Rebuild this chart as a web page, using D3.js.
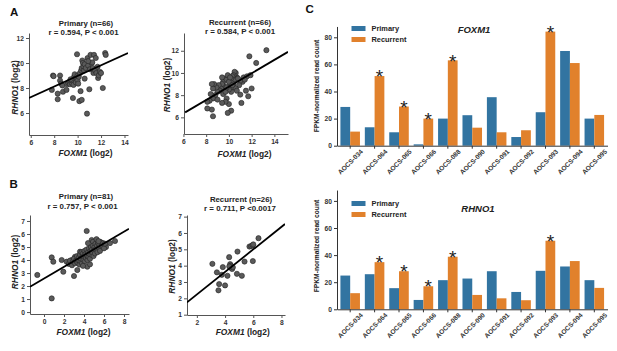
<!DOCTYPE html>
<html><head><meta charset="utf-8">
<script src="https://cdn.jsdelivr.net/npm/d3@7"></script>
<style>
body{margin:0;background:#fff;}
svg{display:block;font-family:Arial,"Liberation Sans",sans-serif;}
</style></head><body>
<svg id="c" width="617" height="351"></svg>
<script>
// ---------- Panel A / B scatter data (FOXM1 log2, RHNO1 log2) ----------
const aPrimary = [[7.9,9.0],[7.95,8.95],[7.8,7.85],[8.3,7.55],[8.3,7.1],[8.5,9.0],[8.5,8.6],[8.6,8.35],[8.7,8.2],[8.75,7.7],
[9.05,7.85],[9.1,8.3],[9.2,8.4],[9.3,8.5],[9.35,8.3],[9.5,8.4],[9.55,8.6],[9.6,7.2],[9.65,8.25],[9.7,8.9],
[9.75,9.1],[9.8,8.7],[9.85,8.45],[9.9,8.8],[9.95,10.7],[10.0,9.0],[10.0,8.6],[10.05,8.35],[10.1,8.9],[10.15,6.95],
[10.2,9.2],[10.25,7.75],[10.3,9.4],[10.35,7.05],[10.35,9.6],[10.4,10.2],[10.45,10.0],[10.5,9.7],[10.55,9.4],[10.6,9.9],
[10.7,9.6],[10.8,5.95],[10.85,10.4],[10.9,9.8],[11.0,7.9],[11.05,9.5],[11.1,10.65],[11.2,10.0],[11.25,10.05],[11.3,9.6],
[11.35,9.2],[11.4,10.65],[11.5,9.4],[11.55,10.4],[11.6,9.2],[11.7,9.7],[11.75,8.8],[11.8,9.0],[11.9,9.3],[12.0,9.2],
[12.15,8.0],[12.35,10.8],[12.4,10.65],[10.9,10.15],[9.4,8.7],[10.6,8.75]];
const aRecurrent = [[13.3,12.05],[11.8,11.5],[12.4,10.9],[12.0,8.6],[11.7,7.9],[11.5,8.4],[11.3,9.6],[11.6,9.7],[11.9,9.8],[11.2,9.2],
[11.0,9.3],[10.9,8.9],[11.0,8.05],[11.1,7.3],[10.7,9.6],[10.6,10.0],[10.5,10.1],[10.4,9.8],[10.5,9.4],[10.3,9.7],
[10.2,9.5],[10.1,9.0],[10.3,8.7],[10.2,8.3],[10.0,8.5],[10.2,6.6],[9.9,6.4],[10.0,7.2],[9.8,7.7],[9.7,7.4],
[9.6,9.5],[9.5,9.2],[9.6,8.8],[9.4,9.6],[9.4,9.0],[9.3,8.6],[9.2,8.4],[9.5,8.1],[9.4,7.3],[9.1,8.9],
[9.0,8.3],[8.9,8.7],[8.8,8.0],[8.7,9.0],[8.6,8.6],[8.5,9.0],[8.6,7.7],[8.5,6.7],[8.6,6.1],[8.4,8.1],
[8.3,7.5],[8.1,7.4],[8.1,6.8],[9.8,9.4],[9.9,9.8],[10.0,9.2],[10.4,9.0],[10.6,8.6],[10.8,9.5],[11.4,9.4],
[10.7,8.4],[9.7,8.3],[9.0,7.6],[10.3,8.9],[10.1,9.6],[9.8,8.7]];
const bPrimary = [[0.77,1.05],[-0.67,2.85],[0.77,4.2],[0.93,3.87],[1.77,4.0],[1.93,3.1],[2.27,3.87],[3.0,2.77],[3.33,3.23],[2.77,4.0],
[3.1,4.25],[3.6,4.64],[4.27,6.23],[4.33,3.49],[4.6,3.67],[4.77,5.54],[4.9,5.4],[5.6,5.4],[6.2,5.0],[7.1,5.46],[6.6,5.3],
[2.5,3.7],[2.6,3.95],[2.8,3.6],[2.9,3.9],[3.0,4.1],[3.1,3.75],[3.2,3.95],[3.3,4.3],[3.35,3.8],[3.4,4.0],
[3.5,4.2],[3.55,3.65],[3.6,4.4],[3.65,3.9],[3.7,4.1],[3.75,4.6],[3.8,3.75],[3.85,4.25],[3.9,4.5],[3.95,4.0],
[4.0,4.3],[4.05,4.7],[4.1,3.9],[4.15,4.45],[4.2,4.15],[4.25,4.8],[4.3,4.35],[4.35,4.0],[4.4,4.6],[4.45,4.25],
[4.5,4.9],[4.55,4.45],[4.6,4.1],[4.65,4.7],[4.7,5.0],[4.75,4.4],[4.8,4.8],[4.85,4.55],[4.9,5.1],[4.95,4.3],
[5.0,4.75],[5.05,5.0],[5.1,4.5],[5.15,5.25],[5.2,4.85],[5.3,5.1],[5.35,4.6],[5.4,5.3],[5.5,4.95],[5.55,5.2],
[5.6,4.7],[5.7,5.35],[5.8,5.1],[5.9,5.3],[6.0,4.9],[6.1,5.25],[5.25,5.6],[5.45,5.45],[4.4,5.3],[3.9,3.55]];
const bRecurrent = [[3.1,4.11],[3.42,3.59],[3.58,2.87],[3.53,2.49],[3.84,3.91],[3.77,3.44],[4.0,2.79],[4.17,3.38],[4.29,4.52],[4.36,4.09],
[4.4,3.95],[4.45,3.85],[4.5,3.8],[4.42,4.0],[4.88,4.86],[4.84,3.5],[5.19,3.38],[5.38,4.25],[5.73,5.17],[5.85,5.2],
[5.95,5.25],[6.0,5.3],[5.97,4.28],[6.37,5.68],[4.55,3.9],[4.3,3.95]];
// regression lines (endpoints in data units)
const fitAPrimary = [[5.85,7.2],[14.3,10.8]];
const fitARecurrent = [[6.15,6.45],[15.2,11.9]];
const fitBPrimary = [[-1.4,1.95],[8.5,6.4]];
const fitBRecurrent = [[1.3,1.75],[8.25,6.55]];
const scatterTitles = ["Primary (n=66)","Recurrent (n=66)","Primary (n=81)","Recurrent (n=26)"];
const scatterStats = ["r = 0.594, P < 0.001","r = 0.584, P < 0.001","r = 0.757, P < 0.001","r = 0.711, P <0.0017"];
const aXTicks = [6,8,10,12,14];
const aYTicks = [6,8,10,12];
const bLeftXTicks = [0,2,4,6,8];
const bLeftYTicks = [0,1,2,3,4,5,6,7];
const bRightXTicks = [2,4,6,8];
const bRightYTicks = [1,2,3,4,5,6,7];

// ---------- Panel C bar data ----------
const samples = ["AOCS-034","AOCS-064","AOCS-065","AOCS-066","AOCS-088","AOCS-090","AOCS-091","AOCS-092","AOCS-093","AOCS-094","AOCS-095"];
const foxm1Primary   = [28.6,13.6,9.9,1.0,20.0,22.5,35.8,6.4,24.7,69.9,20.0];
const foxm1Recurrent = [10.4,51.4,28.9,20.0,63.0,13.3,9.9,11.4,84.2,61.0,22.7];
const rhno1Primary   = [24.9,25.9,15.6,6.9,21.5,22.7,28.1,12.8,28.4,31.6,21.5];
const rhno1Recurrent = [11.9,34.8,28.1,17.0,38.8,10.6,8.1,6.7,50.6,35.6,15.8];
const significant = ["AOCS-064","AOCS-065","AOCS-066","AOCS-088","AOCS-093"];
const barYTicks = [0,20,40,60,80];
const seriesNames = ["Primary","Recurrent"];
const colors = {Primary:"#3274a1", Recurrent:"#e1812c"};

const svg = d3.select("#c");
const txt = "#222";
const intFmt = d3.format("d");

function scatter(cfg){
  const g = svg.append("g");
  const x = d3.scaleLinear().domain(cfg.xd).range(cfg.xr);
  const y = d3.scaleLinear().domain(cfg.yd).range(cfg.yr);
  const clipId = "clip"+cfg.id;
  svg.append("clipPath").attr("id",clipId).append("rect")
    .attr("x",cfg.xr[0]).attr("y",cfg.yr[1]).attr("width",cfg.xr[1]-cfg.xr[0]).attr("height",cfg.yr[0]-cfg.yr[1]);
  const xa = g.append("g").attr("transform",`translate(0,${cfg.yr[0]})`)
    .call(d3.axisBottom(x).tickValues(cfg.xt).tickFormat(intFmt).tickSize(3).tickSizeOuter(0).tickPadding(2));
  const ya = g.append("g").attr("transform",`translate(${cfg.xr[0]},0)`)
    .call(d3.axisLeft(y).tickValues(cfg.yt).tickFormat(intFmt).tickSize(3).tickSizeOuter(0).tickPadding(2));
  [xa,ya].forEach(a=>{
    a.select(".domain").attr("stroke","#555").attr("stroke-width",1);
    a.selectAll(".tick line").attr("stroke","#555");
    a.selectAll(".tick text").attr("font-size",6.7).attr("font-weight","bold").attr("fill","#333").attr("font-family","Arial, Liberation Sans, sans-serif");
  });
  g.append("g").selectAll("circle").data(cfg.pts).join("circle")
    .attr("cx",d=>x(d[0])).attr("cy",d=>y(d[1])).attr("r",2.6)
    .attr("fill","#5a5a5a").attr("stroke","#222").attr("stroke-width",0.6);
  g.append("path").datum(cfg.fit).attr("clip-path",`url(#${clipId})`)
    .attr("d",d3.line().x(d=>x(d[0])).y(d=>y(d[1])))
    .attr("stroke","#000").attr("stroke-width",1.8).attr("fill","none");
  g.append("text").attr("x",cfg.tx).attr("y",cfg.ty).attr("text-anchor","middle")
    .attr("font-size",7.8).attr("font-weight","bold").attr("fill",txt).text(cfg.title);
  g.append("text").attr("x",cfg.sx).attr("y",cfg.ty+9.2).attr("text-anchor","middle")
    .attr("font-size",7.9).attr("font-weight","bold").attr("fill",txt).text(cfg.stat);
  const xl = g.append("text").attr("x",cfg.xlx).attr("y",cfg.xly).attr("text-anchor","middle")
    .attr("font-size",8.4).attr("font-weight","bold").attr("fill",txt);
  xl.append("tspan").attr("font-style","italic").text("FOXM1");
  xl.append("tspan").text(" (log2)");
  const yl = g.append("text").attr("transform",`translate(${cfg.ylx},${cfg.yly}) rotate(-90)`).attr("text-anchor","middle")
    .attr("font-size",8.4).attr("font-weight","bold").attr("fill",txt);
  yl.append("tspan").attr("font-style","italic").text("RHNO1");
  yl.append("tspan").text(" (log2)");
}

scatter({id:1,pts:aPrimary,fit:fitAPrimary,xr:[29,128],yr:[135,33],xd:[5.85,14.3],yd:[4.24,12.4],xt:aXTicks,yt:aYTicks,
  title:scatterTitles[0],stat:scatterStats[0],tx:86,sx:83.5,ty:25.5,xlx:85.5,xly:156,ylx:18,yly:87.5});
scatter({id:2,pts:aRecurrent,fit:fitARecurrent,xr:[184,288],yr:[134,33],xd:[6.05,15.2],yd:[4.5,13.6],xt:aXTicks,yt:aYTicks,
  title:scatterTitles[1],stat:scatterStats[1],tx:240,sx:240,ty:24.5,xlx:244.5,xly:156.5,ylx:169.5,yly:85});
scatter({id:3,pts:bPrimary,fit:fitBPrimary,xr:[30,129],yr:[314,215],xd:[-1.4,8.5],yd:[-0.15,7.46],xt:bLeftXTicks,yt:bLeftYTicks,
  title:scatterTitles[2],stat:scatterStats[2],tx:86,sx:82.5,ty:199.3,xlx:83.5,xly:335,ylx:17.5,yly:262});
scatter({id:4,pts:bRecurrent,fit:fitBRecurrent,xr:[187,285],yr:[315,215],xd:[1.3,8.25],yd:[0.98,7.1],xt:bRightXTicks,yt:bRightYTicks,
  title:scatterTitles[3],stat:scatterStats[3],tx:241,sx:240,ty:201.7,xlx:242.7,xly:335,ylx:175,yly:266.5});

function bars(cfg){
  const g = svg.append("g");
  const x = d3.scaleBand().domain(samples).range([337,607.5]).paddingInner(0.2).paddingOuter(0.14);
  const xs = d3.scaleBand().domain(seriesNames).range([0,x.bandwidth()]);
  const y = d3.scaleLinear().domain([0,88]).range([cfg.y0,cfg.y0-88*1.355]);
  const rows = samples.map((s,i)=>({s, Primary:cfg.p[i], Recurrent:cfg.r[i]}));
  const grp = g.append("g").selectAll("g").data(rows).join("g").attr("transform",d=>`translate(${x(d.s)},0)`);
  grp.selectAll("rect").data(d=>seriesNames.map(k=>({k,v:d[k]}))).join("rect")
    .attr("x",d=>xs(d.k)).attr("width",xs.bandwidth())
    .attr("y",d=>y(d.v)).attr("height",d=>y(0)-y(d.v)).attr("fill",d=>colors[d.k]);
  g.append("g").selectAll("text").data(rows.filter(d=>significant.includes(d.s))).join("text")
    .attr("x",d=>x(d.s)+xs("Recurrent")+xs.bandwidth()/2).attr("y",d=>y(d.Recurrent)+7.2)
    .attr("text-anchor","middle").attr("font-size",19).attr("fill","#222").text("*");
  const xa = g.append("g").attr("transform",`translate(0,${cfg.y0})`)
    .call(d3.axisBottom(x).tickSize(3).tickSizeOuter(0).tickFormat(""));
  xa.select(".domain").attr("stroke","#333").attr("stroke-width",1);
  xa.selectAll(".tick line").attr("stroke","#333");
  g.append("g").selectAll("text").data(samples).join("text")
    .attr("transform",d=>`translate(${x(d)+x.bandwidth()/2},${cfg.y0+16}) rotate(-45)`)
    .attr("text-anchor","middle").attr("dominant-baseline","central")
    .attr("font-size",6.6).attr("font-weight","bold").attr("fill","#333").text(d=>d);
  const ya = g.append("g").attr("transform",`translate(337,0)`)
    .call(d3.axisLeft(y).tickValues(barYTicks).tickSize(3).tickSizeOuter(0).tickPadding(2));
  ya.select(".domain").attr("stroke","#333").attr("stroke-width",1);
  ya.selectAll(".tick line").attr("stroke","#333");
  ya.selectAll(".tick text").attr("font-size",6.7).attr("font-weight","bold").attr("fill","#333").attr("font-family","Arial, Liberation Sans, sans-serif");
  g.append("text").attr("transform",`translate(318.5,${cfg.ylc}) rotate(-90)`).attr("text-anchor","middle")
    .attr("font-size",6.7).attr("font-weight","bold").attr("fill",txt).text("FPKM-normalized read count");
  g.append("text").attr("x",cfg.tcx).attr("y",cfg.tby).attr("text-anchor","middle")
    .attr("font-size",9.5).attr("font-weight","bold").attr("font-style","italic").attr("fill",txt).text(cfg.gene);
  const lg = g.append("g").selectAll("g").data(seriesNames).join("g")
    .attr("transform",(d,i)=>`translate(351.5,${cfg.ly+i*11})`);
  lg.append("rect").attr("width",14).attr("height",5).attr("fill",d=>colors[d]);
  lg.append("text").attr("x",20).attr("y",5).attr("font-size",7.4).attr("font-weight","bold").attr("fill",txt).text(d=>d);
}
bars({y0:145.7,p:foxm1Primary,r:foxm1Recurrent,gene:"FOXM1",tcx:474,tby:33.3,ly:26,ylc:86});
bars({y0:309.3,p:rhno1Primary,r:rhno1Recurrent,gene:"RHNO1",tcx:478,tby:212.3,ly:201,ylc:246});

// panel letters
[["A",10,15.7],["B",9.5,188.3],["C",305.5,13.3]].forEach(d=>{
  svg.append("text").attr("x",d[1]).attr("y",d[2]).attr("font-size",11.5).attr("font-weight","bold").attr("fill","#111").text(d[0]);
});
</script></body></html>
